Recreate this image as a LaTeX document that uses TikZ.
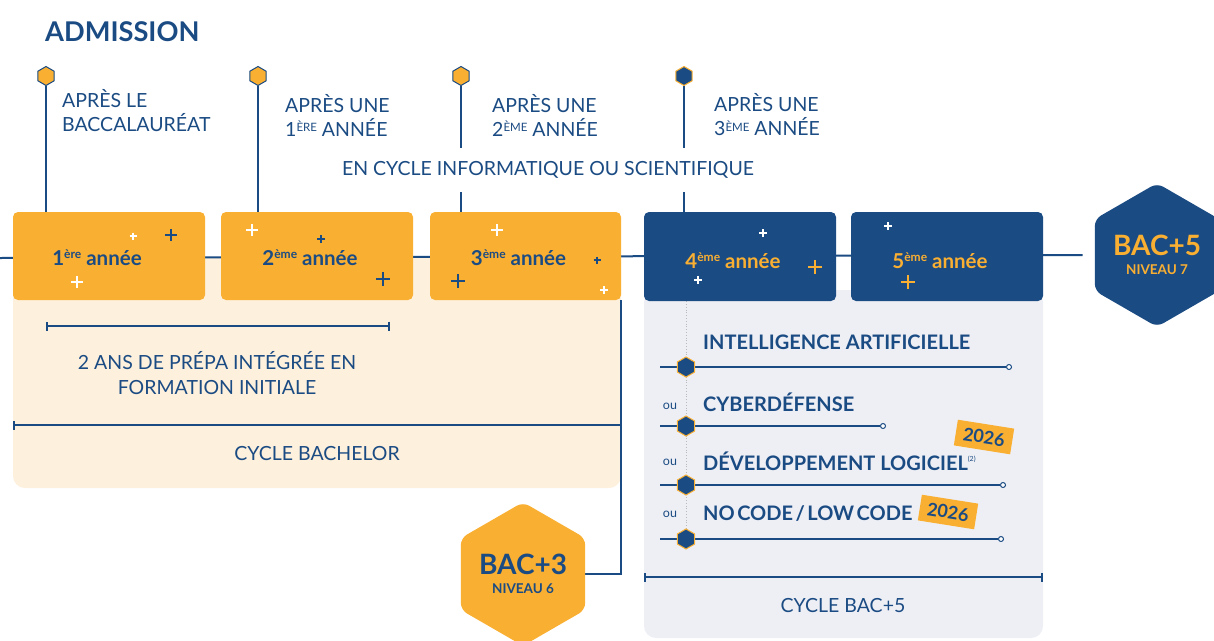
\documentclass[tikz,border=0pt]{standalone}
\usepackage{fontspec}
\setmainfont{Lato}
\usetikzlibrary{shapes.geometric,arrows.meta,calc}
\definecolor{navy}{RGB}{27,75,131}
\definecolor{gold}{RGB}{249,175,50}
\definecolor{cream}{RGB}{253,240,220}
\definecolor{mist}{RGB}{238,239,245}
\pgfdeclarelayer{bg}\pgfdeclarelayer{mid}\pgfsetlayers{bg,mid,main}
\newcommand\crossat[4]{\draw[#4,line width=#2] (#1) ++(-#3,0) -- ++(2*#3,0) (#1) ++(0,-#3) -- ++(0,2*#3);}
\newcommand\sups[3]{\raisebox{#2}{\fontsize{#1}{#1}\selectfont #3}}
\newcommand\boxlbl[2]{\raisebox{#1}[0pt][0pt]{#2}}
\begin{document}
\begin{tikzpicture}[x=1pt,y=-1pt,
  ln/.style={draw=navy,line width=2pt},
  lbl/.style={text=navy,font=\fontsize{19.5}{24}\selectfont,align=left,inner sep=0pt,anchor=west},
  yearbox/.style={rounded corners=5pt,minimum width=192pt,minimum height=88pt,inner sep=0pt,font=\bfseries\fontsize{20.5}{20.5}\selectfont},
  mk/.style={regular polygon,regular polygon sides=6,shape border rotate=30,minimum size=19pt,inner sep=0pt,line width=1pt},
  bighex/.style={regular polygon,regular polygon sides=6,shape border rotate=30,inner sep=0pt,rounded corners=7pt,align=center,font=\bfseries\fontsize{13.5}{19}\selectfont},
  trk/.style={text=navy,font=\bfseries\fontsize{20}{22}\selectfont,inner sep=0pt,anchor=west},
  ou/.style={text=navy,font=\fontsize{12.5}{12.5}\selectfont,inner sep=0pt},
  endc/.style={circle,draw=navy,fill=white,line width=1pt,minimum size=5pt,inner sep=0pt},
  tag/.style={fill=gold,text=navy,font=\bfseries\fontsize{18}{18}\selectfont,minimum width=57pt,minimum height=26pt,inner sep=0pt,rotate=-9},
  captxt/.style={text=navy,font=\fontsize{19.5}{25}\selectfont,align=center,inner sep=0pt}
]
\useasboundingbox (0,0) rectangle (1214,640);

% title
\node[text=navy,font=\bfseries\fontsize{27.2}{27.2}\selectfont,anchor=base west,inner sep=0pt] (title) at (45,41) {ADMISSION};

% year boxes
\node[yearbox,fill=gold,text=navy] (b1) at (109,256) {\boxlbl{-9.4pt}{1\sups{12}{6.5pt}{ère} année}\kern24pt};
\node[yearbox,fill=gold,text=navy] (b2) at (317,256) {\boxlbl{-9.4pt}{2\sups{12}{6.5pt}{ème} année}\kern14pt};
\node[yearbox,fill=gold,text=navy,minimum width=191pt] (b3) at (525.5,256) {\boxlbl{-9.4pt}{3\sups{12}{6.5pt}{ème} année}\kern14pt};
\node[yearbox,fill=navy,text=gold,minimum height=89pt] (b4) at (740,256.5) {\boxlbl{-11.9pt}{4\sups{12}{6.5pt}{ème} année}\kern14pt};
\node[yearbox,fill=navy,text=gold,minimum height=89pt] (b5) at (947,256.5) {\boxlbl{-11.9pt}{5\sups{12}{6.5pt}{ème} année}\kern14pt};

% decorations
\crossat{133,236}{1.2pt}{3.5}{white}
\crossat{171,235}{2.2pt}{6}{navy}
\crossat{77,282}{2pt}{6}{white}
\crossat{252,230}{2pt}{6}{white}
\crossat{321,239}{1.5pt}{4}{navy}
\crossat{383,279}{2.4pt}{7}{navy}
\crossat{497,230}{2pt}{6}{white}
\crossat{458,281}{2.4pt}{7}{navy}
\crossat{597,260}{1.2pt}{3.5}{navy}
\crossat{604,290}{1.5pt}{4}{white}
\crossat{763,233}{1.4pt}{4}{white}
\crossat{815,267}{2.4pt}{7}{gold}
\crossat{698,280}{1.4pt}{4}{white}
\crossat{888,226}{1.4pt}{4}{white}
\crossat{908,282}{2.4pt}{7}{gold}

% end hexagons
\node[bighex,fill=navy,text=gold,minimum size=136pt] (bac5) at (1157,255)
  {{\fontsize{28}{19}\selectfont BAC+5}\\NIVEAU 7};
\node[bighex,fill=gold,text=navy,minimum size=141pt] (bac3) at (523,574)
  {{\fontsize{28}{19}\selectfont BAC+3}\\NIVEAU 6};

% admission markers
\node[mk,fill=gold,draw=navy] (m1) at (46,76) {};
\node[mk,fill=gold,draw=navy] (m2) at (258,76) {};
\node[mk,fill=gold,draw=navy] (m3) at (461,76) {};
\node[mk,fill=navy,draw=gold] (m4) at (684,76) {};

\node[lbl] (a1) at (62,111) {APRÈS LE\\BACCALAURÉAT};
\node[lbl] (a2) at (285,115) {APRÈS UNE\\1\sups{11.5}{4.3pt}{ÈRE} ANNÉE};
\node[lbl] (a3) at (492,115) {APRÈS UNE\\2\sups{11.5}{4.3pt}{ÈME} ANNÉE};
\node[lbl] (a4) at (714,115) {APRÈS UNE\\3\sups{11.5}{4.3pt}{ÈME} ANNÉE};
\node[text=navy,font=\fontsize{19.5}{20}\selectfont,fill=white,minimum height=44pt,inner xsep=6pt] (cyc) at (548,170) {EN CYCLE INFORMATIQUE OU SCIENTIFIQUE};

% tracks
\node[trk] (n1) at (703,342) {INTELLIGENCE ARTIFICIELLE};
\node[trk] (n2) at (703,402) {CYBERDÉFENSE};
\node[trk] (n3) at (703,461) {DÉVELOPPEMENT LOGICIEL\sups{7}{9pt}{\mdseries (2)}};
\node[trk] (n4) at (703,514) {NO\hspace{2.5pt}CODE\hspace{2.5pt}/\hspace{2.5pt}LOW\hspace{2.5pt}CODE};
\node[ou] (o2) at (670,406) {ou};
\node[ou] (o3) at (670,462) {ou};
\node[ou] (o4) at (670,514) {ou};
\node[tag] (tag1) at (984,437) {2026};
\node[tag] (tag2) at (948,512) {2026};

\coordinate (s1) at (660,367);
\coordinate (s2) at (660,426);
\coordinate (s3) at (660,485);
\coordinate (s4) at (660,539);
\node[endc] (e1) at (1009,367) {};
\node[endc] (e2) at (883,426) {};
\node[endc] (e3) at (1003,485) {};
\node[endc] (e4) at (1001,539) {};
\node[mk,fill=navy,draw=gold,minimum size=20pt] (h1) at (686,367) {};
\node[mk,fill=navy,draw=gold,minimum size=20pt] (h2) at (686,426) {};
\node[mk,fill=navy,draw=gold,minimum size=20pt] (h3) at (686,485) {};
\node[mk,fill=navy,draw=gold,minimum size=20pt] (h4) at (686,539) {};

% captions
\node[captxt] (prepa) at (217,373) {2 ANS DE PRÉPA INTÉGRÉE EN\\FORMATION INITIALE};
\node[captxt] (cbach) at (317,454) {CYCLE BACHELOR};
\node[captxt] (cbac5) at (843,606) {CYCLE BAC+5};
\coordinate (p1) at (46,326);
\coordinate (p2) at (390,326);
\coordinate (cb1) at (13,425);
\coordinate (c5a) at (644,577);
\coordinate (c5b) at (1043,577);
\coordinate (L) at (0,258);

\begin{pgfonlayer}{bg}
  \fill[cream,rounded corners=12pt] (13,258) rectangle (621,488);
  \fill[mist,rounded corners=12pt] (644,290) rectangle (1043,638);
\end{pgfonlayer}
\begin{pgfonlayer}{mid}
  \draw[ln] (L) -- ([xshift=-12pt]bac5.west);
  \draw[ln] (m1.south) -- (m1.south |- b1.north);
  \draw[ln] (m2.south) -- (m2.south |- b2.north);
  \draw[ln] (m3.south) -- (m3.south |- b3.north);
  \draw[ln] (m4.south) -- (m4.south |- b4.north);
  \draw[gray!55,line width=0.8pt,dotted] (b4.south -| h1) -- (h4);
  \foreach \i in {1,...,4} {\draw[ln] (s\i) -- (e\i);}
  \draw[ln,{Bar[width=9pt,line width=2pt]}-{Bar[width=9pt,line width=2pt]}] (p1) -- (p2);
  \draw[ln,{Bar[width=9pt,line width=2pt]}-] (cb1) -- (cb1 -| b3.east);
  \draw[ln] (b3.south east) |- (bac3.east);
  \draw[ln,{Bar[width=9pt,line width=2pt]}-{Bar[width=9pt,line width=2pt]}] (c5a) -- (c5b);
\end{pgfonlayer}
\end{tikzpicture}
\end{document}
